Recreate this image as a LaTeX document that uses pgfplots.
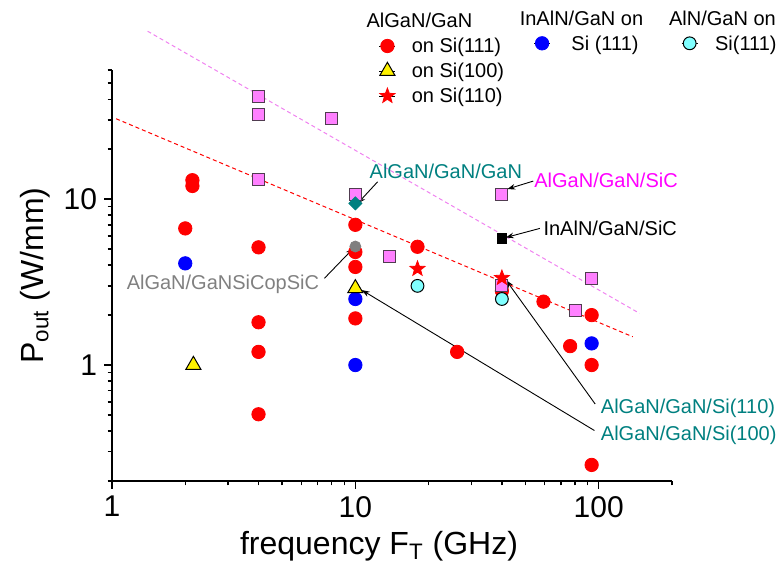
\documentclass[border=0pt]{standalone}
\usepackage{fontspec}
\setmainfont{Liberation Sans}
\usepackage{pgfplots}
\pgfplotsset{compat=1.18}
\usepackage{pgfplotstable}
\usetikzlibrary{plotmarks,arrows.meta}
\definecolor{oteal}{RGB}{0,128,128}
\definecolor{opink}{RGB}{255,128,255}
\definecolor{oborder}{RGB}{80,60,80}
\definecolor{ocyan}{RGB}{128,255,255}
\definecolor{ogray}{RGB}{128,128,128}
\definecolor{omag}{RGB}{255,0,255}
\definecolor{oline}{RGB}{240,130,240}
\pgfdeclareplotmark{fstar}{%
  \pgfpathmoveto{\pgfpointpolar{90}{\pgfplotmarksize}}%
  \pgfpathlineto{\pgfpointpolar{126}{0.42\pgfplotmarksize}}%
  \pgfpathlineto{\pgfpointpolar{162}{\pgfplotmarksize}}%
  \pgfpathlineto{\pgfpointpolar{198}{0.42\pgfplotmarksize}}%
  \pgfpathlineto{\pgfpointpolar{234}{\pgfplotmarksize}}%
  \pgfpathlineto{\pgfpointpolar{270}{0.42\pgfplotmarksize}}%
  \pgfpathlineto{\pgfpointpolar{306}{\pgfplotmarksize}}%
  \pgfpathlineto{\pgfpointpolar{342}{0.42\pgfplotmarksize}}%
  \pgfpathlineto{\pgfpointpolar{18}{\pgfplotmarksize}}%
  \pgfpathlineto{\pgfpointpolar{54}{0.42\pgfplotmarksize}}%
  \pgfpathclose
  \pgfusepathqfillstroke}
\pgfplotsset{
  legend image code/.code={\path (0pt,0pt) -- (8pt,0pt);
    \draw[#1, draw=none] plot coordinates {(4pt,0pt)};},
  every axis legend/.append style={draw=none, fill=none, inner sep=0pt, outer sep=0pt,
    font=\fontsize{10}{12}\selectfont, row sep=0.5pt,
    nodes={inner sep=0pt, text height=9.5pt, text depth=2.5pt, anchor=west}},
}
\pgfplotstableread{
f P
2.14 13.0
2.14 12.0
2.0 6.66
4.0 5.12
4.0 1.81
4.0 1.20
4.0 0.505
10 7.0
10 4.8
10 3.9
10 1.91
18 5.16
26.2 1.20
40 2.8
59.3 2.41
76.3 1.30
93.5 2.0
93.5 1.0
93.5 0.25
}\redsi
\pgfplotstableread{
f P
2.0 4.1
10 2.5
10 1.0
93.5 1.35
}\inaln
\pgfplotstableread{
f P
18 3.0
40 2.5
}\alnsi
\pgfplotstableread{
f P
4 41.7
4 32.4
4 13.1
8 30.6
10 10.7
13.8 4.49
40 10.7
40 3.03
80 2.12
93.5 3.33
}\sic
\pgfplotstableread{
f P
2.16 1.0
10 2.9
}\sionehundred
\pgfplotstableread{
f P
18 3.8
40 3.35
}\sioneten
\begin{document}
\begin{tikzpicture}
\useasboundingbox (-56pt,-44.5pt) rectangle (335.5pt,240.5pt);
\begin{axis}[
  at={(0pt,0pt)}, anchor=south west, scale only axis,
  width=280pt, height=205.5pt,
  xmode=log, ymode=log, xmin=1, xmax=200, ymin=0.2, ymax=60,
  clip=false,
  axis lines=left, axis line style={-, line width=0.7pt},
  tick align=outside, major tick length=4pt, minor tick length=2.2pt,
  every tick/.append style={black, line width=0.7pt},
  xtick={1,10,100}, xticklabels={1,10,100},
  ytick={1,10}, yticklabels={1,10},
  minor xtick={2,3,4,5,6,7,8,9,20,30,40,50,60,70,80,90,200},
  minor ytick={0.2,0.3,0.4,0.5,0.6,0.7,0.8,0.9,2,3,4,5,6,7,8,9,20,30,40,50,60},
  tick label style={font=\fontsize{15}{18}\selectfont},
  xlabel={frequency F\textsubscript{T} (GHz)},
  ylabel={P\textsubscript{out} (W/mm)},
  label style={font=\fontsize{16}{19}\selectfont},
  xlabel style={xshift=-6.5pt},
  legend style={at={(0.4768,1.0876)}, anchor=north west, column sep=8pt},
]
% fit lines
\addplot[forget plot, red, line width=0.5pt, dash pattern=on 2pt off 1.5pt] coordinates {(1.04,30.5) (138,1.48)};
\addplot[forget plot, oline, line width=0.5pt, dash pattern=on 2pt off 1.5pt] coordinates {(1.40,102.8) (147,2.05)};
% data
\addplot[only marks, mark=*, mark size=3.35pt, mark options={draw=red, fill=red}] table {\redsi};
\addlegendentry{on Si(111)}
\addplot[forget plot, only marks, mark=*, mark size=3.35pt, mark options={draw=blue, fill=blue}] table {\inaln};
\addplot[forget plot, only marks, mark=square*, mark size=3pt, mark options={draw=oborder, fill=opink, line width=0.6pt}] table {\sic};
\addplot[forget plot, only marks, mark=*, mark size=3.2pt, mark options={draw=black, fill=ocyan, line width=0.5pt}] table {\alnsi};
\addplot[only marks, mark=triangle*, mark size=4.35pt, mark options={draw=black, fill=yellow, line width=0.5pt}] table {\sionehundred};
\addlegendentry{on Si(100)}
\addplot[only marks, mark=fstar, mark size=3.95pt, mark options={draw=red, fill=red}] table {\sioneten};
\addlegendentry{on Si(110)}
\addplot[forget plot, only marks, mark=*, mark size=2.75pt, mark options={draw=ogray, fill=ogray}] coordinates {(10,5.18)};
\addplot[forget plot, only marks, mark=diamond*, mark size=3.25pt, mark options={draw=oteal, fill=oteal, xscale=1.33}] coordinates {(10,9.42)};
\addplot[forget plot, only marks, mark=square*, mark size=2.35pt, mark options={draw=black, fill=black}] coordinates {(40,5.8)};
% headers
\node[anchor=base, font=\fontsize{10}{12}\selectfont] at (axis description cs:0.549,1.1022) {AlGaN/GaN};
\node[anchor=base, font=\fontsize{10}{12}\selectfont] at (axis description cs:0.8384,1.1071) {InAlN/GaN on};
\node[anchor=base, font=\fontsize{10}{12}\selectfont] at (axis description cs:1.0902,1.1071) {AlN/GaN on};
% annotations
\node[anchor=base west, inner sep=0pt, text=oteal, font=\fontsize{10}{12}\selectfont] at (axis cs:11.41,13.25) {AlGaN/GaN/GaN};
\node[anchor=base west, inner sep=0pt, text=omag, font=\fontsize{10}{12}\selectfont] at (axis cs:54.2,11.81) {AlGaN/GaN/SiC};
\node[anchor=base west, inner sep=0pt, text=black, font=\fontsize{10}{12}\selectfont] at (axis cs:59.1,6.04) {InAlN/GaN/SiC};
\node[anchor=base east, inner sep=0pt, text=ogray, font=\fontsize{10}{12}\selectfont] at (axis cs:7.12,2.84) {AlGaN/GaNSiCopSiC};
\node[anchor=base west, inner sep=0pt, text=oteal, font=\fontsize{10}{12}\selectfont] at (axis cs:101.7,0.509) {AlGaN/GaN/Si(110)};
\node[anchor=base west, inner sep=0pt, text=oteal, font=\fontsize{10}{12}\selectfont] at (axis cs:101.7,0.352) {AlGaN/GaN/Si(100)};
\draw[-{Stealth[length=4pt,width=2.8pt]}, line width=0.45pt] (axis cs:12.34,12.71) -- (axis cs:10.22,9.42);
\draw[-{Stealth[length=4pt,width=2.8pt]}, line width=0.45pt] (axis cs:53.8,12.84) -- (axis cs:42.1,11.49);
\draw[-{Stealth[length=4pt,width=2.8pt]}, line width=0.45pt] (axis cs:57.3,6.66) -- (axis cs:41.5,5.87);
\draw[-{Stealth[length=4pt,width=2.8pt]}, line width=0.45pt] (axis cs:7.46,3.33) -- (axis cs:9.81,5.05);
\draw[-{Stealth[length=4pt,width=2.8pt]}, line width=0.45pt] (axis cs:96.7,0.582) -- (axis cs:41.6,3.25);
\draw[-{Stealth[length=4pt,width=2.8pt]}, line width=0.45pt] (axis cs:96.0,0.403) -- (axis cs:10.63,2.83);
\end{axis}
\begin{axis}[
  at={(0pt,0pt)}, anchor=south west, scale only axis,
  width=280pt, height=205.5pt,
  xmode=log, ymode=log, xmin=1, xmax=200, ymin=0.2, ymax=60,
  hide axis,
  legend style={at={(0.7530,1.0941)}, anchor=north west, column sep=10.5pt}]
\addlegendimage{only marks, mark=*, mark size=3.35pt, mark options={draw=blue, fill=blue}}
\addlegendentry{Si (111)}
\end{axis}
\begin{axis}[
  at={(0pt,0pt)}, anchor=south west, scale only axis,
  width=280pt, height=205.5pt,
  xmode=log, ymode=log, xmin=1, xmax=200, ymin=0.2, ymax=60,
  hide axis,
  legend style={at={(1.0166,1.0941)}, anchor=north west, column sep=8.5pt}]
\addlegendimage{only marks, mark=*, mark size=3.2pt, mark options={draw=black, fill=ocyan, line width=0.5pt}}
\addlegendentry{Si(111)}
\end{axis}
\end{tikzpicture}
\end{document}
